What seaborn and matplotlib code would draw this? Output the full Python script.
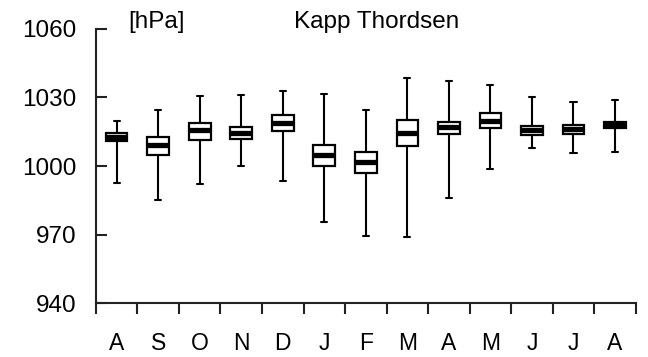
import seaborn as sns
import numpy as np
import matplotlib.pyplot as plt
import pandas as pd

# months Aug .. Aug, pressure in hPa
month_keys = ['Aug1', 'Sep', 'Oct', 'Nov', 'Dec', 'Jan', 'Feb', 'Mar', 'Apr', 'May', 'Jun', 'Jul', 'Aug2']
month_labels = ['A', 'S', 'O', 'N', 'D', 'J', 'F', 'M', 'A', 'M', 'J', 'J', 'A']
p_min = [992.5, 985.2, 992.2, 999.9, 993.5, 975.3, 969.3, 968.9, 985.9, 998.5, 1007.7, 1005.5, 1006.2]
p_q1 = [1011.0, 1005.0, 1011.6, 1012.0, 1015.5, 999.9, 997.0, 1008.8, 1014.1, 1016.5, 1013.5, 1013.8, 1016.5]
p_med = [1012.5, 1009.0, 1015.7, 1014.5, 1019.0, 1004.9, 1001.7, 1014.5, 1017.0, 1019.5, 1015.7, 1016.0, 1018.0]
p_q3 = [1014.4, 1012.6, 1019.0, 1017.0, 1022.5, 1009.0, 1006.0, 1020.2, 1019.3, 1023.1, 1017.6, 1017.9, 1019.3]
p_max = [1019.6, 1024.6, 1030.5, 1031.0, 1032.9, 1031.4, 1024.3, 1038.4, 1037.1, 1035.4, 1030.1, 1028.1, 1028.9]

# five values per month -> quartiles come out exactly, whiskers at min/max
rows = []
for i, m in enumerate(month_keys):
    for v in (p_min[i], p_q1[i], p_med[i], p_q3[i], p_max[i]):
        rows.append({'Month': m, 'Pressure': v})
df = pd.DataFrame(rows)

sns.set_theme(style="ticks")
plt.rcParams['font.family'] = ['Liberation Sans', 'DejaVu Sans']
plt.rcParams['text.color'] = 'black'
plt.rcParams['xtick.color'] = 'black'
plt.rcParams['ytick.color'] = 'black'
plt.rcParams['axes.edgecolor'] = 'black'

fig = plt.figure(figsize=(6.48, 3.57), dpi=100)
ax = fig.add_axes([0.148, 0.151, 0.833, 0.768])

sns.boxplot(data=df, x='Month', y='Pressure', order=month_keys, whis=(0, 100),
            width=0.52, color='white', linecolor='black', linewidth=1.6,
            showfliers=False, ax=ax,
            boxprops=dict(facecolor='white', edgecolor='black', linewidth=1.6),
            medianprops=dict(color='black', linewidth=3.8, solid_capstyle='butt'),
            whiskerprops=dict(color='black', linewidth=1.5),
            capprops=dict(color='black', linewidth=1.5),
            capwidths=0.15)

ax.set_ylim(940, 1060)
ax.set_xlim(-0.5, 12.5)
ax.set_yticks([940, 970, 1000, 1030, 1060])
ax.set_xticks(range(len(month_keys)))
ax.set_xticklabels(month_labels)
ax.set_xticks(np.arange(-0.5, 13, 1), minor=True)
ax.tick_params(axis='x', which='major', length=0, pad=21, labelsize=16.5)
ax.tick_params(axis='x', which='minor', length=8, width=1.5, direction='out', color='#222222')
ax.tick_params(axis='y', which='major', length=8, width=1.5, direction='in', pad=14,
               labelsize=17.5, color='#222222')
ax.set_xlabel('')
ax.set_ylabel('')

sns.despine(ax=ax)
for s in ['left', 'bottom']:
    ax.spines[s].set_linewidth(1.5)
    ax.spines[s].set_color('#222222')

# header texts placed in pixels (origin bottom left)
ax.text(128, 357 - 28, '[hPa]', transform=None, fontsize=17.5, va='baseline', ha='left')
ax.text(377, 357 - 28, 'Kapp Thordsen', transform=None, fontsize=17.5, va='baseline', ha='center')

plt.savefig('out.png', dpi=100)
